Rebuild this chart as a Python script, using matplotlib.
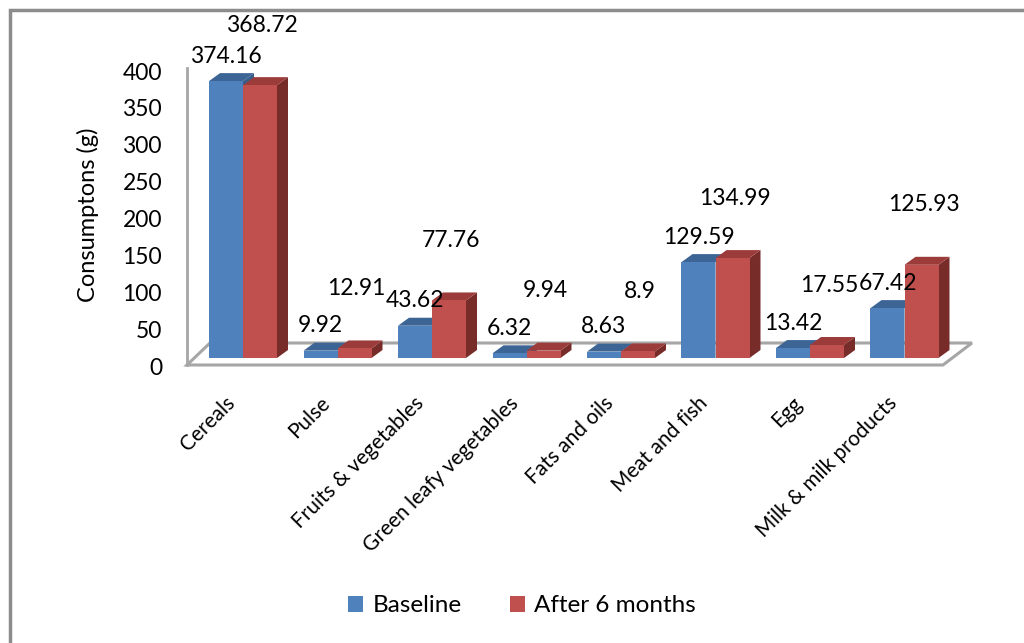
import numpy as np
import matplotlib
matplotlib.use('Agg')
import matplotlib.pyplot as plt
from matplotlib.patches import Polygon, Rectangle, Patch
from matplotlib.transforms import ScaledTranslation

# dati
categories = ['Cereals', 'Pulse', 'Fruits & vegetables', 'Green leafy vegetables',
              'Fats and oils', 'Meat and fish', 'Egg', 'Milk & milk products']
baseline = [374.16, 9.92, 43.62, 6.32, 8.63, 129.59, 13.42, 67.42]
after_6m = [368.72, 12.91, 77.76, 9.94, 8.9, 134.99, 17.55, 125.93]
yticks = [0, 50, 100, 150, 200, 250, 300, 350, 400]
series_names = ['Baseline', 'After 6 months']

plt.rcParams['font.family'] = ['Lato', 'DejaVu Sans']
FS = 16.5

W, H = 1024, 643
fig = plt.figure(figsize=(W / 100, H / 100), dpi=100)

# scala: pixel per categoria / per grammo
SX, SY = 94.5, 0.74
X0, Y0 = 243, 358
left_px, right_px, top_px, bot_px = 150, 1000, 20, 420
ax = fig.add_axes([left_px / W, 1 - bot_px / H, (right_px - left_px) / W, (bot_px - top_px) / H])
ax.set_xlim((left_px - X0) / SX, (right_px - X0) / SX)
ax.set_ylim((Y0 - bot_px) / SY, (Y0 - top_px) / SY)
ax.axis('off')

def px_x(p):
    return p / SX

def px_y(p):
    return p / SY

# pavimento 3D
fy = px_y(-7)           # linea frontale
by = px_y(15)           # linea posteriore
fl, fr = -0.5 - 0.093, 7.5 - 0.093
floor = Polygon([(fl, fy), (fr, fy), (fr + px_x(29), by), (fl + px_x(23), by)],
                closed=True, facecolor='white', edgecolor='#a6a6a6', lw=2.2, zorder=1)
ax.add_patch(floor)
ax.plot([fl, fl], [fy, 392], color='#a6a6a6', lw=2, zorder=1)

x = np.arange(len(categories))
w = 34 / SX
ddx, ddy = px_x(11), px_y(8)

def bar3d(x0, x1, v, front, top, side):
    ax.add_patch(Polygon([(x1, 0), (x1, v), (x1 + ddx, v + ddy), (x1 + ddx, ddy)],
                         closed=True, facecolor=side, edgecolor='none', zorder=2))
    ax.add_patch(Polygon([(x0, v), (x1, v), (x1 + ddx, v + ddy), (x0 + ddx, v + ddy)],
                         closed=True, facecolor=top, edgecolor='none', zorder=2))
    ax.bar((x0 + x1) / 2, v, x1 - x0, color=front, zorder=2)

for i in range(len(categories)):
    bar3d(x[i] - w, x[i], baseline[i], '#4f81bd', '#3c6596', '#385d8a')
    bar3d(x[i], x[i] + w, after_6m[i], '#c0504d', '#9b3c3a', '#772c2a')

# etichette dei valori
for i in range(len(categories)):
    ax.text(x[i] - w / 2, baseline[i] + px_y(25), f'{baseline[i]:g}',
            ha='center', va='center', fontsize=FS, zorder=5)
    ax.text(x[i] + w / 2 + px_x(2), after_6m[i] + px_y(60), f'{after_6m[i]:g}',
            ha='center', va='center', fontsize=FS, zorder=5)

# asse y
off = ScaledTranslation(0, -11 / 100, fig.dpi_scale_trans)
for t in yticks:
    ax.text(px_x(162 - X0), t, str(t), ha='right', va='center', fontsize=FS,
            transform=ax.transData + off)
fig.text(88 / W, 1 - 215 / H, 'Consumptons (g)', rotation=90, ha='center', va='center',
         fontsize=FS + 0.5)

# categorie
for i, c in enumerate(categories):
    ax.text(x[i] - 0.116, px_y(-42), c, rotation=45, ha='right', va='center',
            rotation_mode='anchor', fontsize=15)

# legenda
handles = [Patch(facecolor='#4f81bd'), Patch(facecolor='#c0504d')]
fig.legend(handles, series_names, loc='center', bbox_to_anchor=(522 / W, 1 - 606 / H),
           ncol=2, frameon=False, fontsize=17.5, handlelength=0.6, handleheight=0.6,
           handletextpad=0.4, columnspacing=2.0)

# bordo esterno
fig.patches.append(Rectangle((10 / W, -0.1), 1.1, 1.1 - 10 / H, transform=fig.transFigure,
                             fill=False, edgecolor='#8c8c8c', lw=2.5))

fig.savefig('out.png', dpi=100)
